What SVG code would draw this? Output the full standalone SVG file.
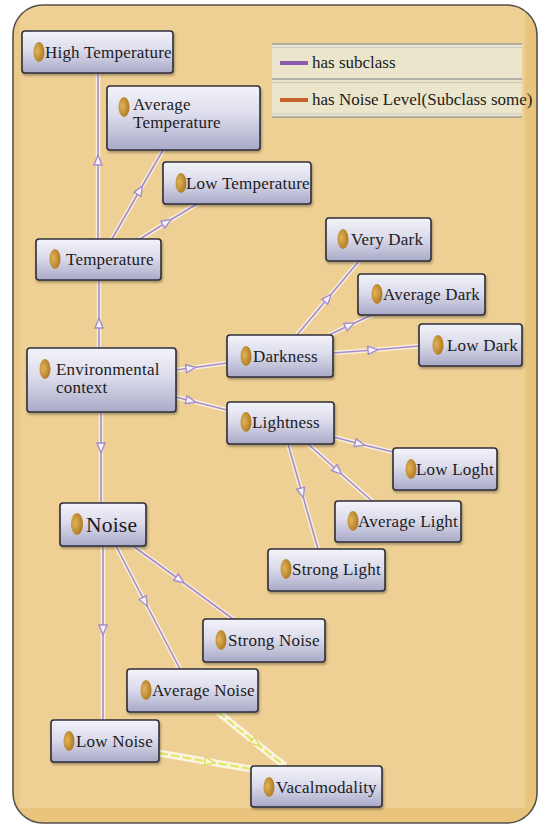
<svg xmlns="http://www.w3.org/2000/svg" width="539" height="827" viewBox="0 0 539 827">
  <style>
    .node rect.box { fill: url(#nodeFill); stroke: #2e2e38; stroke-width: 1.6; filter: url(#shadow); }
    .node ellipse { fill: url(#iconFill); }
    .node text { font-family: "Liberation Serif", "DejaVu Serif", serif; font-size: 17px; fill: #1c1c22; letter-spacing: 0.2px; }
    .halo { fill: none; stroke: #ffffff; stroke-opacity: 0.65; stroke-width: 4.5; }
    .sub { fill: none; stroke: #a68ccb; stroke-width: 1.6; marker-mid: url(#openArrow); }
    .yhalo { fill: none; stroke: #ffffff; stroke-opacity: 0.75; stroke-width: 7; }
    .lvl { fill: none; stroke: #e4e66a; stroke-width: 2.4; stroke-dasharray: 9 3; marker-mid: url(#openArrowY); }
    .legend text { font-family: "Liberation Serif", "DejaVu Serif", serif; font-size: 17px; fill: #1c1c22; }
  </style>
  <defs>
    <linearGradient id="nodeFill" x1="0" y1="0" x2="0" y2="1">
      <stop offset="0" stop-color="#f3f3f9"/>
      <stop offset="0.45" stop-color="#dcdcec"/>
      <stop offset="1" stop-color="#a9a9c8"/>
    </linearGradient>
    <radialGradient id="iconFill" cx="0.35" cy="0.45" r="0.7">
      <stop offset="0" stop-color="#e3b357"/>
      <stop offset="1" stop-color="#a8741c"/>
    </radialGradient>
    <filter id="shadow" x="-10%" y="-20%" width="125%" height="150%">
      <feDropShadow dx="1" dy="2" stdDeviation="1.2" flood-color="#3a3020" flood-opacity="0.4"/>
    </filter>
    <clipPath id="panelClip">
      <rect x="13" y="5" width="524" height="818" rx="30"/>
    </clipPath>
    <marker id="openArrow" viewBox="0 0 12 10" refX="6" refY="5" markerWidth="12" markerHeight="10" markerUnits="userSpaceOnUse" orient="auto">
      <path d="M1,1 L11,5 L1,9 Z" fill="#f6f2fa" stroke="#a68ccb" stroke-width="1.4"/>
    </marker>
    <marker id="openArrowY" viewBox="0 0 12 10" refX="6" refY="5" markerWidth="12" markerHeight="10" markerUnits="userSpaceOnUse" orient="auto">
      <path d="M1,1 L11,5 L1,9 Z" fill="#f8f6d0" stroke="#dcdc60" stroke-width="1.4"/>
    </marker>
  </defs>

  <!-- background panel -->
  <g id="panel">
    <g clip-path="url(#panelClip)">
      <rect x="13" y="5" width="524" height="818" fill="#e9c47c"/>
      <rect x="13" y="5" width="512" height="803" fill="#eecf94"/>
      <rect x="13" y="5" width="7" height="803" fill="#ebca89"/>
    </g>
    <rect x="13" y="5" width="524" height="818" rx="30" fill="none" stroke="#55524c" stroke-width="1.6"/>
  </g>

  <!-- legend -->
  <g id="legend" class="legend">
    <rect x="272" y="44" width="250" height="73" fill="#ebe5cb"/>
    <line x1="272" y1="44" x2="522" y2="44" stroke="#9c9c9c" stroke-width="1.5"/>
    <line x1="272" y1="47.5" x2="522" y2="47.5" stroke="#c9c9c6" stroke-width="1"/>
    <line x1="272" y1="79" x2="522" y2="79" stroke="#9c9c9c" stroke-width="1.5"/>
    <line x1="272" y1="82.5" x2="522" y2="82.5" stroke="#c9c9c6" stroke-width="1"/>
    <line x1="272" y1="114" x2="522" y2="114" stroke="#c9c9c6" stroke-width="1"/>
    <line x1="272" y1="117" x2="522" y2="117" stroke="#9c9c9c" stroke-width="1.5"/>
    <line x1="280" y1="63" x2="308" y2="63" stroke="#8c5cb0" stroke-width="4"/>
    <text x="312" y="68">has subclass</text>
    <line x1="280" y1="100" x2="308" y2="100" stroke="#c4622c" stroke-width="4"/>
    <text x="312" y="105">has Noise Level(Subclass some)</text>
  </g>

  <!-- connectors: start, arrow position, end -->
  <g id="connectors">
    <g id="halos">
      <polyline class="halo" points="98,239 98,160 98,73"/>
      <polyline class="halo" points="112,239 140,190 163,150"/>
      <polyline class="halo" points="140,239 167,222 197,204"/>
      <polyline class="halo" points="99,348 99,323 99,280"/>
      <polyline class="halo" points="176,370 191,368 227,363"/>
      <polyline class="halo" points="176,397 191,401 227,410"/>
      <polyline class="halo" points="101,412 101,448 101,503"/>
      <polyline class="halo" points="297,335 328,298 359,261"/>
      <polyline class="halo" points="329,335 350,325 372,315"/>
      <polyline class="halo" points="333,353 373,350 419,346"/>
      <polyline class="halo" points="334,437 360,444 393,452"/>
      <polyline class="halo" points="308,444 338,471 372,501"/>
      <polyline class="halo" points="288,444 302,493 318,549"/>
      <polyline class="halo" points="133,546 180,580 233,619"/>
      <polyline class="halo" points="116,546 145,602 180,669"/>
      <polyline class="halo" points="103,546 103,630 103,720"/>
      <polyline class="yhalo" points="218,712 256,743 285,766"/>
      <polyline class="yhalo" points="159,753 210,762 251,769"/>
    </g>
    <polyline id="e-temp-high" class="sub" points="98,239 98,160 98,73"/>
    <polyline id="e-temp-avg" class="sub" points="112,239 140,190 163,150"/>
    <polyline id="e-temp-low" class="sub" points="140,239 167,222 197,204"/>
    <polyline id="e-env-temp" class="sub" points="99,348 99,323 99,280"/>
    <polyline id="e-env-dark" class="sub" points="176,370 191,368 227,363"/>
    <polyline id="e-env-light" class="sub" points="176,397 191,401 227,410"/>
    <polyline id="e-env-noise" class="sub" points="101,412 101,448 101,503"/>
    <polyline id="e-dark-very" class="sub" points="297,335 328,298 359,261"/>
    <polyline id="e-dark-avg" class="sub" points="329,335 350,325 372,315"/>
    <polyline id="e-dark-low" class="sub" points="333,353 373,350 419,346"/>
    <polyline id="e-light-low" class="sub" points="334,437 360,444 393,452"/>
    <polyline id="e-light-avg" class="sub" points="308,444 338,471 372,501"/>
    <polyline id="e-light-strong" class="sub" points="288,444 302,493 318,549"/>
    <polyline id="e-noise-strong" class="sub" points="133,546 180,580 233,619"/>
    <polyline id="e-noise-avg" class="sub" points="116,546 145,602 180,669"/>
    <polyline id="e-noise-low" class="sub" points="103,546 103,630 103,720"/>
    <polyline id="e-avgnoise-vocal" class="lvl" points="218,712 256,743 285,766"/>
    <polyline id="e-lownoise-vocal" class="lvl" points="159,753 210,762 251,769"/>
  </g>

  <!-- class nodes -->
  <g id="high-temperature" class="node">
    <rect class="box" x="22" y="31" width="151" height="42" rx="3"/>
    <ellipse cx="39" cy="52" rx="5.5" ry="10"/>
    <text x="45" y="58">High Temperature</text>
  </g>
  <g id="average-temperature" class="node">
    <rect class="box" x="107" y="86" width="153" height="64" rx="3"/>
    <ellipse cx="124" cy="107" rx="5.5" ry="10"/>
    <text x="133" y="110">Average</text>
    <text x="133" y="128">Temperature</text>
  </g>
  <g id="low-temperature" class="node">
    <rect class="box" x="163" y="162" width="148" height="42" rx="3"/>
    <ellipse cx="181" cy="183" rx="5.5" ry="10"/>
    <text x="186" y="189">Low Temperature</text>
  </g>
  <g id="temperature" class="node">
    <rect class="box" x="36" y="239" width="125" height="41" rx="3"/>
    <ellipse cx="55" cy="259" rx="5.5" ry="10"/>
    <text x="66" y="265">Temperature</text>
  </g>
  <g id="environmental-context" class="node">
    <rect class="box" x="27" y="348" width="149" height="64" rx="3"/>
    <ellipse cx="45" cy="369" rx="5.5" ry="10"/>
    <text x="56" y="375" letter-spacing="0.7">Environmental</text>
    <text x="56" y="393" letter-spacing="0.7">context</text>
  </g>
  <g id="darkness" class="node">
    <rect class="box" x="227" y="335" width="106" height="42" rx="3"/>
    <ellipse cx="246" cy="356" rx="5.5" ry="10"/>
    <text x="253" y="362">Darkness</text>
  </g>
  <g id="lightness" class="node">
    <rect class="box" x="227" y="402" width="107" height="42" rx="3"/>
    <ellipse cx="246" cy="422" rx="5.5" ry="10"/>
    <text x="252" y="428">Lightness</text>
  </g>
  <g id="very-dark" class="node">
    <rect class="box" x="326" y="218" width="105" height="43" rx="3"/>
    <ellipse cx="343" cy="239" rx="5.5" ry="10"/>
    <text x="351" y="245">Very Dark</text>
  </g>
  <g id="average-dark" class="node">
    <rect class="box" x="358" y="274" width="127" height="41" rx="3"/>
    <ellipse cx="377" cy="294" rx="5.5" ry="10"/>
    <text x="383" y="300">Average Dark</text>
  </g>
  <g id="low-dark" class="node">
    <rect class="box" x="419" y="324" width="103" height="42" rx="3"/>
    <ellipse cx="438" cy="345" rx="5.5" ry="10"/>
    <text x="447" y="351">Low Dark</text>
  </g>
  <g id="low-loght" class="node">
    <rect class="box" x="393" y="448" width="104" height="42" rx="3"/>
    <ellipse cx="411" cy="469" rx="5.5" ry="10"/>
    <text x="416" y="475">Low Loght</text>
  </g>
  <g id="average-light" class="node">
    <rect class="box" x="335" y="501" width="126" height="41" rx="3"/>
    <ellipse cx="353" cy="521" rx="5.5" ry="10"/>
    <text x="358" y="527">Average Light</text>
  </g>
  <g id="strong-light" class="node">
    <rect class="box" x="268" y="549" width="117" height="42" rx="3"/>
    <ellipse cx="286" cy="569" rx="5.5" ry="10"/>
    <text x="292" y="575">Strong Light</text>
  </g>
  <g id="noise" class="node">
    <rect class="box" x="60" y="503" width="86" height="43" rx="3"/>
    <ellipse cx="77" cy="524" rx="6" ry="11"/>
    <text x="86" y="532" style="font-size:21.5px">Noise</text>
  </g>
  <g id="strong-noise" class="node">
    <rect class="box" x="203" y="619" width="122" height="43" rx="3"/>
    <ellipse cx="221" cy="640" rx="5.5" ry="10"/>
    <text x="228" y="646">Strong Noise</text>
  </g>
  <g id="average-noise" class="node">
    <rect class="box" x="127" y="669" width="131" height="43" rx="3"/>
    <ellipse cx="146" cy="690" rx="5.5" ry="10"/>
    <text x="152" y="696">Average Noise</text>
  </g>
  <g id="low-noise" class="node">
    <rect class="box" x="51" y="720" width="108" height="42" rx="3"/>
    <ellipse cx="69" cy="741" rx="5.5" ry="10"/>
    <text x="76" y="747">Low Noise</text>
  </g>
  <g id="vacalmodality" class="node">
    <rect class="box" x="251" y="766" width="131" height="41" rx="3"/>
    <ellipse cx="269" cy="787" rx="5.5" ry="10"/>
    <text x="276" y="793">Vacalmodality</text>
  </g>
</svg>
